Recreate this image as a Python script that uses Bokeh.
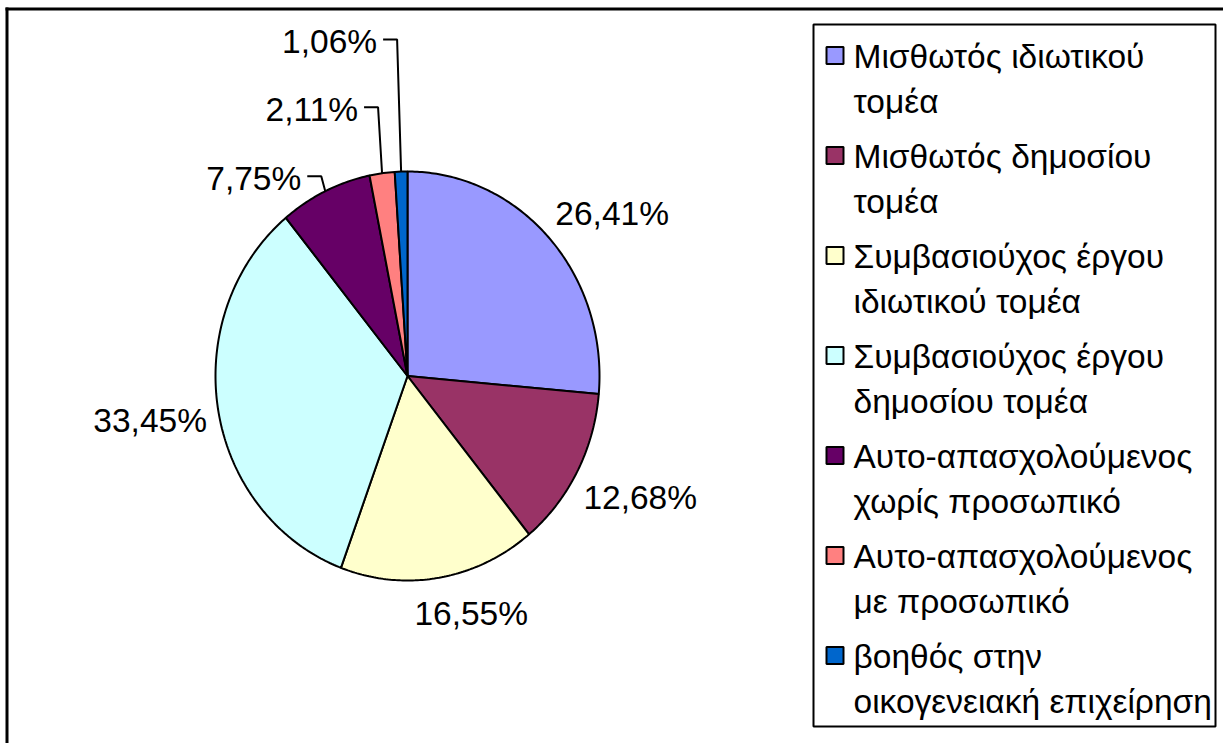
import numpy as np
from bokeh.plotting import figure
from bokeh.models import Range1d
from bokeh.embed import file_html
from bokeh.resources import INLINE
from bokeh.core.properties import value

# ---------------- data ----------------
legend_line1 = ["Μισθωτός ιδιωτικού", "Μισθωτός δημοσίου", "Συμβασιούχος έργου",
                "Συμβασιούχος έργου", "Αυτο-απασχολούμενος", "Αυτο-απασχολούμενος",
                "βοηθός στην"]
legend_line2 = ["τομέα", "τομέα", "ιδιωτικού τομέα", "δημοσίου τομέα",
                "χωρίς προσωπικό", "με προσωπικό", "οικογενειακή επιχείρηση"]
percentages = [26.41, 12.68, 16.55, 33.45, 7.75, 2.11, 1.06]
colors = ["#9999FF", "#993366", "#FFFFCC", "#CCFFFF", "#660066", "#FF8080", "#0066CC"]

# ---------------- layout ----------------
W, H = 1223, 743
CX, CY = 407.0, 375.5      # pie centre (page px)
RX, RY = 192.0, 204.5      # pie radii
FONT = value("Liberation Sans")
FS = "33.5px"

p = figure(width=W, height=H, x_range=Range1d(0, W), y_range=Range1d(H, 0),
           output_backend="svg", toolbar_location=None, min_border=0)
p.axis.visible = False
p.grid.visible = False
p.outline_line_color = None
p.background_fill_color = "white"

# outer frame (top and left visible)
p.segment(x0=[5, 6.5], y0=[8.5, 7], x1=[W, 6.5], y1=[8.5, H], line_color="black", line_width=3)

# ---------------- pie ----------------
vals = np.array(percentages)
fr = vals / vals.sum()
ends = np.cumsum(fr) * 2 * np.pi
starts = ends - fr * 2 * np.pi
mids = (starts + ends) / 2

xs, ys = [], []
for a0, a1 in zip(starts, ends):
    t = np.linspace(a0, a1, max(4, int((a1 - a0) * 80)))
    xs.append([CX] + list(CX + RX * np.sin(t)))
    ys.append([CY] + list(CY - RY * np.cos(t)))
p.patches(xs=xs, ys=ys, fill_color=colors, line_color="black", line_width=2)

labels = [f"{v:.2f}%".replace(".", ",") for v in percentages]
ax = CX + RX * np.sin(mids)
ay = CY - RY * np.cos(mids)

# large slices: labels placed outside near the mid-angle anchor
big_offsets = {0: (63, -24), 1: (63, 26), 2: (32, 36), 3: (-68, 11)}
bx = [ax[i] + big_offsets[i][0] for i in big_offsets]
by = [ay[i] + big_offsets[i][1] for i in big_offsets]
bt = [labels[i] for i in big_offsets]
p.text(x=bx, y=by, text=bt, text_font=FONT, text_font_size=FS,
       text_align="center", text_baseline="middle", text_color="black")

# small slices: leader lines with elbow
rises = {4: 15, 5: 66, 6: 132}
lx, ly, tx, ty, tt = [], [], [], [], []
for i, rise in rises.items():
    ex, ey = ax[i] - 4, ay[i] - rise
    lx.append([ax[i], ex, ex - 14])
    ly.append([ay[i], ey, ey])
    tx.append(ex - 20)
    ty.append(ey + 2)
    tt.append(labels[i])
p.multi_line(xs=lx, ys=ly, line_color="black", line_width=2)
p.text(x=tx, y=ty, text=tt, text_font=FONT, text_font_size=FS,
       text_align="right", text_baseline="middle", text_color="black")

# ---------------- legend ----------------
p.quad(left=[813], right=[1215], top=[24], bottom=[726], fill_color=None,
       line_color="black", line_width=2)
n = len(percentages)
ly0 = [55 + 100 * i for i in range(n)]
p.rect(x=[834.5] * n, y=ly0, width=17, height=17, fill_color=colors,
       line_color="black", line_width=2)
p.text(x=[853] * n, y=[v + 1 for v in ly0], text=legend_line1, text_font=FONT,
       text_font_size=FS, text_baseline="middle", text_color="black")
p.text(x=[853] * n, y=[v + 46 for v in ly0], text=legend_line2, text_font=FONT,
       text_font_size=FS, text_baseline="middle", text_color="black")

open("out.html", "w").write(file_html(p, INLINE))
